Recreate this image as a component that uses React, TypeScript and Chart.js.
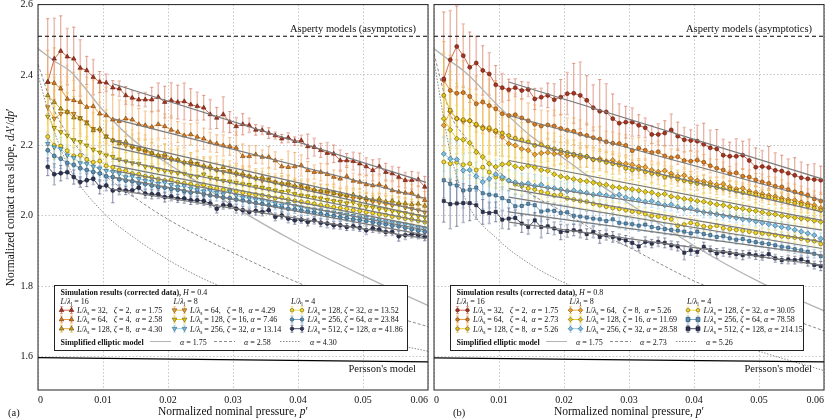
import React, { useRef, useEffect } from "react";
import { Chart, registerables } from "chart.js";

Chart.register(...registerables);

const FONT = '"Liberation Serif", "DejaVu Serif", serif';

// nominal pressure at which the simulations were sampled (0.0015, 0.0025, ... 0.0595)
const pressure: number[] = Array.from({ length: 59 }, (_, i) => +(0.0015 + i * 0.001).toFixed(4));

const xTicks = [0, 0.01, 0.02, 0.03, 0.04, 0.05, 0.06];
const yTicks = [1.6, 1.8, 2.0, 2.2, 2.4, 2.6];

// ---------- H = 0.4 ----------
const h04L16s32 = [2.380, 2.446, 2.468, 2.452, 2.446, 2.420, 2.413, 2.394, 2.380, 2.378, 2.364, 2.361, 2.342, 2.335, 2.330, 2.330, 2.330, 2.337, 2.323, 2.328, 2.323, 2.325, 2.316, 2.311, 2.307, 2.288, 2.278, 2.288, 2.266, 2.254, 2.260, 2.257, 2.244, 2.243, 2.235, 2.228, 2.219, 2.222, 2.212, 2.214, 2.197, 2.195, 2.186, 2.178, 2.176, 2.157, 2.157, 2.155, 2.148, 2.140, 2.129, 2.140, 2.124, 2.120, 2.110, 2.101, 2.101, 2.103, 2.082];
const h04L16s64 = [2.380, 2.377, 2.361, 2.332, 2.328, 2.323, 2.309, 2.311, 2.290, 2.285, 2.273, 2.269, 2.276, 2.273, 2.260, 2.257, 2.252, 2.260, 2.254, 2.244, 2.238, 2.228, 2.231, 2.224, 2.219, 2.209, 2.205, 2.200, 2.197, 2.193, 2.169, 2.169, 2.174, 2.167, 2.167, 2.157, 2.140, 2.138, 2.140, 2.143, 2.129, 2.124, 2.124, 2.118, 2.110, 2.105, 2.112, 2.099, 2.096, 2.089, 2.086, 2.089, 2.082, 2.072, 2.068, 2.065, 2.065, 2.055, 2.044];
const h04L16s128 = [2.342, 2.323, 2.304, 2.295, 2.279, 2.276, 2.262, 2.243, 2.247, 2.224, 2.214, 2.205, 2.21, 2.196, 2.19, 2.188, 2.178, 2.172, 2.175, 2.163, 2.16, 2.152, 2.155, 2.146, 2.142, 2.14, 2.131, 2.138, 2.126, 2.122, 2.12, 2.112, 2.108, 2.11, 2.1, 2.095, 2.092, 2.094, 2.085, 2.08, 2.083, 2.074, 2.07, 2.072, 2.064, 2.062, 2.058, 2.06, 2.052, 2.05, 2.046, 2.048, 2.04, 2.042, 2.036, 2.035, 2.032, 2.034, 2.028];
const h04L8s64 = [2.309, 2.276, 2.29, 2.295, 2.29, 2.278, 2.266, 2.247, 2.243, 2.226, 2.214, 2.21, 2.2, 2.195, 2.19, 2.18, 2.178, 2.17, 2.165, 2.16, 2.158, 2.15, 2.146, 2.148, 2.138, 2.134, 2.13, 2.125, 2.128, 2.118, 2.114, 2.112, 2.106, 2.1, 2.104, 2.095, 2.09, 2.088, 2.082, 2.085, 2.076, 2.072, 2.07, 2.064, 2.066, 2.058, 2.055, 2.05, 2.052, 2.044, 2.04, 2.038, 2.034, 2.03, 2.032, 2.024, 2.02, 2.016, 2.01];
const h04L8s128 = [2.282, 2.25, 2.238, 2.228, 2.215, 2.21, 2.2, 2.188, 2.18, 2.172, 2.168, 2.16, 2.155, 2.15, 2.148, 2.14, 2.138, 2.132, 2.128, 2.125, 2.122, 2.12, 2.114, 2.112, 2.118, 2.108, 2.105, 2.1, 2.098, 2.094, 2.09, 2.088, 2.082, 2.08, 2.076, 2.072, 2.068, 2.07, 2.062, 2.058, 2.056, 2.052, 2.05, 2.046, 2.042, 2.04, 2.036, 2.038, 2.03, 2.026, 2.024, 2.02, 2.018, 2.014, 2.01, 2.008, 2.004, 2.0, 1.996];
const h04L8s256 = [2.205, 2.195, 2.19, 2.172, 2.165, 2.15, 2.148, 2.14, 2.135, 2.128, 2.125, 2.12, 2.11, 2.112, 2.105, 2.1, 2.098, 2.092, 2.095, 2.088, 2.082, 2.085, 2.078, 2.074, 2.07, 2.072, 2.066, 2.062, 2.07, 2.058, 2.052, 2.05, 2.046, 2.044, 2.04, 2.036, 2.03, 2.034, 2.028, 2.024, 2.02, 2.018, 2.016, 2.012, 2.01, 2.006, 2.004, 2.0, 1.996, 1.995, 1.99, 1.988, 1.985, 1.982, 1.978, 1.976, 1.972, 1.968, 1.964];
const h04L4s128 = [2.225, 2.2, 2.198, 2.185, 2.17, 2.172, 2.16, 2.152, 2.155, 2.142, 2.138, 2.13, 2.128, 2.12, 2.118, 2.112, 2.11, 2.104, 2.1, 2.102, 2.095, 2.092, 2.09, 2.085, 2.088, 2.08, 2.078, 2.074, 2.072, 2.07, 2.066, 2.062, 2.06, 2.058, 2.055, 2.05, 2.052, 2.046, 2.042, 2.04, 2.038, 2.034, 2.03, 2.028, 2.025, 2.022, 2.02, 2.016, 2.014, 2.01, 2.008, 2.004, 2.002, 1.998, 1.996, 1.992, 1.99, 1.986, 1.982];
const h04L4s256 = [2.186, 2.17, 2.162, 2.15, 2.145, 2.135, 2.13, 2.125, 2.12, 2.112, 2.11, 2.104, 2.1, 2.098, 2.092, 2.09, 2.086, 2.082, 2.08, 2.076, 2.074, 2.07, 2.066, 2.068, 2.062, 2.058, 2.056, 2.052, 2.05, 2.046, 2.044, 2.04, 2.036, 2.034, 2.03, 2.028, 2.024, 2.02, 2.018, 2.015, 2.012, 2.01, 2.006, 2.002, 2.0, 1.996, 1.994, 1.99, 1.988, 1.985, 1.982, 1.978, 1.976, 1.972, 1.97, 1.966, 1.962, 1.958, 1.955];
const h04L4s512 = [2.139, 2.118, 2.121, 2.124, 2.110, 2.096, 2.101, 2.105, 2.082, 2.086, 2.072, 2.074, 2.072, 2.072, 2.080, 2.063, 2.061, 2.061, 2.053, 2.055, 2.049, 2.049, 2.044, 2.044, 2.042, 2.035, 2.020, 2.030, 2.030, 2.020, 2.016, 2.011, 2.014, 2.011, 2.016, 1.997, 2.001, 1.992, 1.987, 1.989, 1.982, 1.987, 1.980, 1.978, 1.973, 1.973, 1.968, 1.970, 1.966, 1.959, 1.964, 1.961, 1.954, 1.954, 1.942, 1.945, 1.948, 1.945, 1.940];

// error bar half-widths, in thousandths
const h04L16s32Err = [180, 115, 100, 80, 90, 80, 40, 50, 30, 25, 20, 22, 25, 20, 18, 20, 35, 40, 45, 50, 48, 52, 45, 40, 35, 42, 30, 50, 30, 25, 30, 20, 15, 12, 15, 10, 12, 14, 12, 15, 35, 25, 20, 30, 25, 30, 20, 25, 30, 25, 30, 22, 25, 20, 28, 22, 25, 20, 30];
const h04L16s64Err = [90, 100, 110, 95, 80, 90, 85, 75, 95, 80, 70, 60, 50, 55, 45, 40, 45, 40, 35, 40, 30, 35, 30, 40, 30, 28, 25, 30, 25, 45, 35, 30, 25, 20, 30, 25, 20, 45, 40, 30, 25, 20, 25, 30, 20, 25, 30, 22, 20, 25, 30, 25, 20, 25, 35, 30, 25, 30, 25];
const h04L16s128Err = [60, 70, 65, 55, 60, 50, 45, 50, 40, 45, 35, 40, 30, 35, 30, 28, 30, 25, 28, 25, 30, 22, 25, 20, 22, 25, 20, 22, 18, 20, 22, 18, 20, 25, 20, 18, 22, 20, 18, 20, 15, 18, 20, 16, 18, 15, 20, 18, 15, 16, 18, 15, 17, 15, 18, 16, 15, 18, 20];
const h04L8s64Err = [70, 80, 90, 100, 95, 90, 100, 85, 80, 75, 60, 55, 65, 50, 45, 50, 40, 45, 40, 35, 40, 35, 30, 35, 30, 35, 40, 30, 28, 30, 25, 30, 28, 25, 30, 25, 22, 28, 25, 20, 25, 22, 20, 25, 22, 20, 18, 22, 25, 20, 18, 20, 22, 18, 20, 25, 20, 22, 25];
const h04L8s128Err = [55, 60, 70, 65, 60, 55, 50, 55, 45, 40, 45, 35, 40, 30, 35, 30, 28, 30, 25, 28, 25, 22, 25, 20, 22, 25, 20, 18, 22, 20, 18, 20, 16, 18, 20, 15, 18, 16, 15, 18, 16, 15, 14, 16, 15, 14, 16, 15, 13, 15, 14, 16, 15, 13, 15, 14, 13, 15, 16];
const h04L8s256Err = [30, 35, 32, 30, 28, 30, 25, 28, 25, 22, 35, 25, 22, 20, 25, 22, 20, 18, 25, 20, 18, 20, 16, 18, 15, 18, 16, 15, 20, 16, 15, 14, 16, 15, 14, 13, 15, 14, 13, 14, 12, 13, 14, 12, 13, 12, 14, 12, 13, 12, 11, 13, 12, 11, 12, 13, 12, 11, 14];
const h04L4s128Err = [35, 40, 38, 35, 30, 32, 28, 30, 25, 28, 25, 22, 25, 20, 22, 20, 18, 20, 18, 16, 18, 15, 16, 18, 15, 14, 16, 15, 14, 15, 13, 14, 15, 13, 12, 14, 13, 12, 14, 13, 12, 13, 12, 14, 12, 11, 13, 12, 11, 12, 13, 11, 12, 11, 12, 13, 11, 12, 13];
const h04L4s256Err = [30, 32, 28, 30, 25, 28, 24, 25, 22, 20, 22, 20, 18, 20, 18, 16, 18, 15, 16, 15, 14, 16, 15, 14, 13, 15, 14, 13, 14, 12, 13, 14, 12, 13, 12, 11, 13, 12, 11, 12, 11, 12, 13, 11, 12, 11, 10, 12, 11, 10, 12, 11, 10, 11, 12, 10, 11, 12, 13];
const h04L4s512Err = [25, 30, 22, 18, 20, 15, 18, 16, 20, 15, 35, 14, 12, 15, 14, 12, 13, 12, 14, 12, 11, 13, 12, 11, 12, 10, 12, 11, 10, 12, 11, 10, 12, 11, 10, 11, 10, 12, 11, 10, 11, 10, 11, 12, 10, 11, 10, 11, 10, 12, 11, 10, 11, 10, 14, 12, 11, 10, 11];

const h04LamL = [16, 16, 16, 8, 8, 8, 4, 4, 4];
const h04LamS = [32, 64, 128, 64, 128, 256, 128, 256, 512];
const h04Zeta = [2, 4, 8, 8, 16, 32, 32, 64, 128];
const h04Alpha = ["1.75", "2.58", "4.30", "4.29", "7.46", "13.14", "13.52", "23.84", "41.86"];
// straight model lines drawn over each series, from p' = 0.0115 to 0.0597
const h04FitFrom = [2.375, 2.276, 2.214, 2.195, 2.162, 2.129, 2.143, 2.11, 2.075];
const h04FitTo = [2.095, 2.049, 2.011, 1.997, 1.982, 1.959, 1.968, 1.945, 1.935];

// ---------- H = 0.8 ----------
const h08L16s32 = [2.389, 2.443, 2.481, 2.455, 2.422, 2.434, 2.413, 2.403, 2.372, 2.364, 2.358, 2.364, 2.356, 2.359, 2.332, 2.337, 2.342, 2.330, 2.337, 2.347, 2.348, 2.342, 2.328, 2.307, 2.297, 2.295, 2.276, 2.263, 2.266, 2.266, 2.257, 2.250, 2.231, 2.231, 2.235, 2.244, 2.226, 2.216, 2.214, 2.212, 2.203, 2.193, 2.190, 2.172, 2.169, 2.169, 2.172, 2.157, 2.138, 2.140, 2.137, 2.129, 2.127, 2.121, 2.115, 2.108, 2.105, 2.103, 2.101];
const h08L16s64 = [2.385, 2.356, 2.348, 2.35, 2.339, 2.318, 2.323, 2.313, 2.304, 2.29, 2.285, 2.287, 2.278, 2.27, 2.26, 2.255, 2.258, 2.255, 2.248, 2.243, 2.24, 2.232, 2.228, 2.222, 2.218, 2.21, 2.206, 2.205, 2.2, 2.185, 2.192, 2.186, 2.18, 2.182, 2.17, 2.165, 2.168, 2.157, 2.155, 2.158, 2.152, 2.142, 2.135, 2.13, 2.12, 2.122, 2.112, 2.11, 2.102, 2.096, 2.092, 2.084, 2.082, 2.074, 2.068, 2.064, 2.058, 2.048, 2.042];
const h08L16s128 = [2.342, 2.30, 2.276, 2.273, 2.27, 2.26, 2.248, 2.25, 2.242, 2.235, 2.228, 2.22, 2.215, 2.21, 2.2, 2.202, 2.195, 2.19, 2.186, 2.18, 2.175, 2.172, 2.168, 2.16, 2.158, 2.152, 2.148, 2.144, 2.135, 2.13, 2.132, 2.125, 2.12, 2.118, 2.11, 2.112, 2.104, 2.1, 2.096, 2.092, 2.09, 2.086, 2.08, 2.078, 2.075, 2.07, 2.066, 2.064, 2.06, 2.055, 2.052, 2.048, 2.044, 2.04, 2.036, 2.032, 2.028, 2.022, 2.015];
const h08L8s64 = [2.257, 2.296, 2.276, 2.269, 2.27, 2.257, 2.252, 2.245, 2.238, 2.224, 2.205, 2.2, 2.19, 2.186, 2.174, 2.178, 2.18, 2.176, 2.178, 2.17, 2.172, 2.165, 2.168, 2.16, 2.162, 2.155, 2.158, 2.15, 2.148, 2.145, 2.14, 2.138, 2.13, 2.125, 2.128, 2.12, 2.112, 2.115, 2.106, 2.1, 2.098, 2.094, 2.088, 2.09, 2.082, 2.076, 2.078, 2.07, 2.066, 2.062, 2.058, 2.055, 2.05, 2.046, 2.044, 2.038, 2.034, 2.03, 2.022];
const h08L8s128 = [2.276, 2.244, 2.219, 2.216, 2.207, 2.181, 2.167, 2.148, 2.139, 2.146, 2.148, 2.14, 2.135, 2.142, 2.138, 2.13, 2.128, 2.118, 2.112, 2.108, 2.104, 2.1, 2.098, 2.094, 2.09, 2.088, 2.082, 2.08, 2.078, 2.075, 2.072, 2.068, 2.066, 2.06, 2.062, 2.055, 2.052, 2.048, 2.046, 2.042, 2.04, 2.036, 2.032, 2.03, 2.026, 2.022, 2.02, 2.016, 2.014, 2.01, 2.006, 2.004, 2.0, 1.998, 1.995, 1.992, 1.99, 1.986, 1.983];
const h08L8s256 = [2.176, 2.162, 2.16, 2.129, 2.13, 2.112, 2.096, 2.105, 2.118, 2.11, 2.1, 2.095, 2.09, 2.092, 2.085, 2.088, 2.08, 2.078, 2.075, 2.07, 2.072, 2.068, 2.065, 2.06, 2.062, 2.058, 2.055, 2.06, 2.052, 2.048, 2.045, 2.04, 2.042, 2.035, 2.03, 2.032, 2.025, 2.02, 2.022, 2.015, 2.01, 2.008, 2.004, 2.0, 1.998, 1.994, 1.99, 1.988, 1.984, 1.98, 1.976, 1.972, 1.968, 1.965, 1.96, 1.955, 1.95, 1.945, 1.935];
const h08L4s128 = [2.153, 2.148, 2.152, 2.145, 2.148, 2.13, 2.138, 2.124, 2.11, 2.105, 2.1, 2.09, 2.085, 2.078, 2.075, 2.068, 2.065, 2.058, 2.06, 2.05, 2.046, 2.042, 2.04, 2.034, 2.03, 2.026, 2.022, 2.02, 2.016, 2.012, 2.01, 2.005, 2.0, 1.998, 1.994, 1.99, 1.972, 1.975, 1.98, 1.976, 1.97, 1.968, 1.972, 1.965, 1.962, 1.96, 1.958, 1.955, 1.952, 1.95, 1.948, 1.945, 1.942, 1.94, 1.938, 1.935, 1.93, 1.928, 1.92];
const h08L4s256 = [2.101, 2.091, 2.086, 2.072, 2.074, 2.08, 2.064, 2.06, 2.058, 2.05, 2.042, 2.027, 2.028, 2.034, 2.03, 2.012, 2.015, 2.014, 2.008, 2.01, 2.0, 1.998, 1.995, 1.992, 1.99, 1.985, 1.99, 1.98, 1.978, 1.976, 1.972, 1.975, 1.968, 1.965, 1.962, 1.96, 1.958, 1.955, 1.95, 1.955, 1.948, 1.945, 1.94, 1.942, 1.936, 1.932, 1.934, 1.928, 1.925, 1.922, 1.92, 1.916, 1.912, 1.91, 1.905, 1.902, 1.898, 1.892, 1.885];
const h08L4s512 = [2.042, 2.033, 2.035, 2.036, 2.036, 2.03, 2.011, 2.008, 2.011, 1.989, 1.992, 1.994, 1.978, 1.968, 1.987, 1.968, 1.97, 1.964, 1.954, 1.957, 1.959, 1.956, 1.948, 1.954, 1.94, 1.945, 1.94, 1.935, 1.93, 1.923, 1.913, 1.926, 1.921, 1.926, 1.923, 1.916, 1.913, 1.895, 1.902, 1.897, 1.912, 1.902, 1.893, 1.897, 1.894, 1.891, 1.888, 1.891, 1.888, 1.885, 1.891, 1.879, 1.874, 1.876, 1.874, 1.876, 1.869, 1.86, 1.857];

const h08L16s32Err = [190, 140, 115, 90, 100, 75, 70, 60, 55, 40, 30, 25, 25, 20, 30, 25, 35, 45, 50, 60, 85, 95, 70, 65, 90, 80, 70, 55, 45, 40, 30, 28, 25, 30, 35, 45, 40, 35, 30, 45, 60, 50, 55, 45, 40, 50, 40, 60, 55, 45, 60, 50, 45, 40, 50, 45, 40, 45, 40];
const h08L16s64Err = [110, 100, 95, 90, 85, 80, 90, 75, 80, 70, 65, 60, 55, 50, 55, 45, 40, 45, 40, 35, 38, 40, 35, 30, 35, 30, 32, 28, 30, 35, 30, 28, 25, 30, 28, 25, 22, 25, 30, 25, 22, 20, 25, 22, 20, 25, 22, 20, 18, 22, 20, 25, 20, 18, 22, 20, 18, 22, 25];
const h08L16s128Err = [120, 110, 100, 95, 90, 85, 80, 75, 70, 65, 60, 55, 50, 55, 45, 50, 40, 45, 40, 35, 40, 35, 30, 35, 30, 28, 30, 25, 30, 28, 25, 22, 25, 30, 25, 22, 20, 25, 22, 20, 25, 22, 20, 18, 22, 20, 18, 20, 22, 18, 20, 18, 22, 20, 18, 22, 20, 25, 28];
const h08L8s64Err = [80, 90, 85, 80, 75, 70, 80, 65, 60, 55, 50, 45, 50, 40, 45, 35, 40, 35, 30, 35, 30, 28, 30, 25, 28, 30, 25, 22, 25, 28, 22, 25, 20, 22, 25, 20, 18, 22, 20, 25, 20, 18, 20, 22, 18, 20, 16, 18, 20, 18, 16, 20, 18, 16, 18, 20, 18, 22, 25];
const h08L8s128Err = [90, 100, 95, 85, 80, 75, 70, 65, 60, 55, 50, 55, 45, 50, 40, 45, 35, 40, 35, 30, 35, 30, 28, 32, 25, 30, 28, 25, 22, 28, 25, 22, 25, 20, 22, 25, 20, 22, 18, 20, 22, 18, 20, 16, 18, 20, 18, 16, 20, 18, 16, 18, 20, 16, 18, 16, 20, 18, 22];
const h08L8s256Err = [50, 55, 50, 45, 48, 40, 45, 38, 40, 35, 30, 35, 30, 28, 32, 25, 28, 25, 22, 25, 22, 20, 22, 18, 20, 22, 18, 20, 16, 18, 20, 16, 18, 15, 16, 18, 15, 16, 14, 15, 16, 14, 15, 13, 15, 14, 16, 14, 13, 15, 14, 13, 15, 14, 13, 14, 15, 13, 16];
const h08L4s128Err = [45, 50, 45, 40, 42, 38, 40, 35, 32, 30, 28, 30, 25, 28, 25, 22, 25, 22, 20, 22, 20, 18, 20, 18, 16, 18, 20, 16, 18, 15, 16, 18, 15, 14, 16, 15, 20, 18, 16, 15, 14, 15, 16, 14, 13, 15, 14, 13, 15, 14, 13, 14, 13, 12, 14, 13, 12, 14, 15];
const h08L4s256Err = [50, 55, 45, 50, 42, 40, 45, 38, 35, 32, 30, 35, 28, 30, 25, 28, 25, 22, 25, 20, 22, 20, 18, 20, 18, 22, 18, 16, 18, 15, 16, 18, 15, 14, 16, 15, 14, 16, 14, 13, 15, 14, 13, 14, 12, 13, 14, 12, 13, 12, 14, 12, 11, 13, 12, 11, 13, 12, 14];
const h08L4s512Err = [60, 70, 65, 55, 50, 40, 35, 30, 28, 25, 30, 22, 25, 20, 22, 30, 20, 18, 22, 18, 16, 18, 15, 16, 18, 14, 15, 13, 14, 15, 13, 14, 12, 13, 14, 12, 13, 20, 14, 12, 13, 12, 14, 12, 11, 12, 13, 11, 12, 11, 12, 11, 10, 12, 11, 10, 12, 11, 13];

const h08LamL = [16, 16, 16, 8, 8, 8, 4, 4, 4];
const h08LamS = [32, 64, 128, 64, 128, 256, 128, 256, 512];
const h08Zeta = [2, 4, 8, 8, 16, 32, 32, 64, 128];
const h08Alpha = ["1.75", "2.73", "5.26", "5.26", "11.69", "28.58", "30.05", "78.58", "214.15"];
const h08FitFrom = [2.38, 2.285, 2.157, 2.219, 2.096, 2.077, 2.053, 2.011, 1.982];
const h08FitTo = [2.105, 2.044, 1.987, 2.011, 1.959, 1.926, 1.907, 1.888, 1.86];

// simplified elliptic model curves
const modelP = [0, 0.0025, 0.005, 0.01, 0.015, 0.02, 0.025, 0.03, 0.04, 0.05, 0.06];
const h04Model175 = [2.475, 2.44, 2.41, 2.30, 2.21, 2.148, 2.09, 2.028, 1.922, 1.83, 1.745];
const h04Model258 = [2.43, 2.30, 2.22, 2.12, 2.05, 1.99, 1.94, 1.895, 1.81, 1.74, 1.685];
const h04Model430 = [2.40, 2.24, 2.13, 2.01, 1.935, 1.875, 1.825, 1.785, 1.71, 1.655, 1.615];
const h08Model175 = [2.475, 2.44, 2.405, 2.31, 2.225, 2.163, 2.095, 2.035, 1.915, 1.813, 1.73];
const h08Model273 = [2.46, 2.29, 2.22, 2.125, 2.06, 2.01, 1.955, 1.91, 1.815, 1.74, 1.673];
const h08Model526 = [2.44, 2.18, 2.04, 1.93, 1.86, 1.81, 1.77, 1.735, 1.675, 1.615, 1.56];

const fitP = [0.0115, 0.0597];
const perssonP = [0, 0.06];
const h04Persson = [1.597, 1.585];
const h08Persson = [1.596, 1.585];
const asperityLevel = 2.51;

type Marker = "tri" | "triDown" | "circle" | "diamond" | "square";
type Look = { line: string; fill: string; edge: string; bar: string; marker: Marker };

const red: Look = { line: "#cc5a3c", fill: "#a83420", edge: "#5a1a0e", bar: "#d9806a", marker: "tri" };
const orange: Look = { line: "#e98a2e", fill: "#d97c1e", edge: "#6a3a0a", bar: "#f0a860", marker: "tri" };
const gold: Look = { line: "#d9a520", fill: "#c9a020", edge: "#5a4a08", bar: "#e8c050", marker: "tri" };
const orange2: Look = { line: "#f0a832", fill: "#eaa030", edge: "#6a4a10", bar: "#f5c070", marker: "triDown" };
const yellow: Look = { line: "#e6cc1e", fill: "#e0c81c", edge: "#5a5008", bar: "#f0dc5a", marker: "triDown" };
const sky: Look = { line: "#8cc8e6", fill: "#7cbce0", edge: "#2f5a70", bar: "#a8d6ee", marker: "triDown" };
const yellow2: Look = { line: "#f2d82a", fill: "#efd628", edge: "#6a5a10", bar: "#f5e270", marker: "circle" };
const steel: Look = { line: "#6a9ec0", fill: "#5a90b4", edge: "#22405a", bar: "#8ab4d0", marker: "circle" };
const navy: Look = { line: "#353c5c", fill: "#2e3452", edge: "#14182a", bar: "#6a7090", marker: "circle" };

const h04Looks = [red, orange, gold, orange2, yellow, sky, yellow2, steel, navy];
const h08Looks: Look[] = [
  { ...red, marker: "circle" },
  { ...orange, marker: "circle" },
  { ...gold, line: "#e8c41c", fill: "#e6c21a", marker: "circle" },
  { ...orange2, marker: "diamond" },
  { ...yellow, marker: "diamond" },
  { ...sky, marker: "diamond" },
  { ...yellow2, marker: "circle" },
  { ...steel, marker: "square" },
  { ...navy, marker: "square" },
];

const chartStyle: Record<Marker, { pointStyle: string; rotation: number; r: number }> = {
  tri: { pointStyle: "triangle", rotation: 0, r: 2.6 },
  triDown: { pointStyle: "triangle", rotation: 180, r: 2.6 },
  circle: { pointStyle: "circle", rotation: 0, r: 2.0 },
  diamond: { pointStyle: "rectRot", rotation: 0, r: 2.6 },
  square: { pointStyle: "rect", rotation: 0, r: 2.2 },
};

// ---- small rich text helper: *italic*, #bold#, _x subscript ----
type Run = { t: string; it: boolean; b: boolean; sub: boolean };
function parseRich(s: string): Run[] {
  const out: Run[] = [];
  let it = false, b = false;
  for (let i = 0; i < s.length; i++) {
    const c = s[i];
    if (c === "*") { it = !it; continue; }
    if (c === "#") { b = !b; continue; }
    let sub = false, t = c;
    if (c === "_") { sub = true; t = s[++i]; }
    const last = out[out.length - 1];
    if (last && last.it === it && last.b === b && last.sub === sub && !sub) last.t += t;
    else out.push({ t, it, b, sub });
  }
  return out;
}
function drawRich(ctx: CanvasRenderingContext2D, s: string, x: number, y: number, size: number, align = "left") {
  const runs = parseRich(s);
  const font = (r: Run) => `${r.it ? "italic " : ""}${r.b ? "bold " : ""}${r.sub ? size * 0.7 : size}px ${FONT}`;
  let w = 0;
  runs.forEach((r) => { ctx.font = font(r); w += ctx.measureText(r.t).width; });
  let cx = align === "left" ? x : align === "center" ? x - w / 2 : x - w;
  ctx.textAlign = "left";
  ctx.textBaseline = "alphabetic";
  ctx.fillStyle = "#111";
  runs.forEach((r) => {
    ctx.font = font(r);
    ctx.fillText(r.t, cx, r.sub ? y + size * 0.25 : y);
    cx += ctx.measureText(r.t).width;
  });
}

function drawMarker(ctx: CanvasRenderingContext2D, m: Marker, x: number, y: number, r: number, fill: string, edge: string) {
  ctx.beginPath();
  if (m === "circle") ctx.arc(x, y, r, 0, Math.PI * 2);
  else if (m === "tri") { ctx.moveTo(x, y - r * 1.15); ctx.lineTo(x + r, y + r * 0.6); ctx.lineTo(x - r, y + r * 0.6); ctx.closePath(); }
  else if (m === "triDown") { ctx.moveTo(x, y + r * 1.15); ctx.lineTo(x + r, y - r * 0.6); ctx.lineTo(x - r, y - r * 0.6); ctx.closePath(); }
  else if (m === "diamond") { ctx.moveTo(x, y - r); ctx.lineTo(x + r, y); ctx.lineTo(x, y + r); ctx.lineTo(x - r, y); ctx.closePath(); }
  else ctx.rect(x - r, y - r, r * 2, r * 2);
  ctx.fillStyle = fill;
  ctx.fill();
  ctx.strokeStyle = edge;
  ctx.lineWidth = 0.6;
  ctx.stroke();
}

interface PanelProps {
  h: string;
  letter: string;
  left: number;
  width: number;
  plotLeft: number;
  plotRight: number;
  yLabels: boolean;
  series: number[][];
  errors: number[][];
  looks: Look[];
  lamL: number[];
  lamS: number[];
  zeta: number[];
  alpha: string[];
  fitFrom: number[];
  fitTo: number[];
  models: number[][];
  modelAlpha: string[];
  persson: number[];
}

const modelDash = [[], [3, 2], [1.5, 1.5]];
const modelColor = ["#b4b4b4", "#8a8a8a", "#8a8a8a"];

const Panel: React.FC<PanelProps> = (p) => {
  const ref = useRef<HTMLCanvasElement | null>(null);

  useEffect(() => {
    if (!ref.current) return;

    const datasets: any[] = [];
    p.models.forEach((m, k) =>
      datasets.push({
        data: m.map((v, i) => ({ x: modelP[i], y: v })),
        borderColor: modelColor[k], borderWidth: k === 0 ? 1.3 : 1, borderDash: modelDash[k],
        pointRadius: 0, cubicInterpolationMode: "monotone", order: 3,
      })
    );
    p.series.forEach((vals, k) => {
      const look = p.looks[k];
      const st = chartStyle[look.marker];
      datasets.push({
        data: vals.map((v, i) => ({ x: pressure[i], y: v })),
        err: p.errors[k], barColor: look.bar,
        borderColor: look.line, borderWidth: 0.9,
        pointStyle: st.pointStyle, pointRotation: st.rotation, pointRadius: st.r,
        pointBackgroundColor: look.fill, pointBorderColor: look.edge, pointBorderWidth: 0.6,
        order: 2 + k * 0.01,
      });
    });
    p.fitFrom.forEach((v, k) =>
      datasets.push({
        data: [{ x: fitP[0], y: v }, { x: fitP[1], y: p.fitTo[k] }],
        borderColor: "#7a7a7a", borderWidth: 1.2, pointRadius: 0, order: 1,
      })
    );
    datasets.push({
      data: perssonP.map((x, i) => ({ x, y: p.persson[i] })),
      borderColor: "#000", borderWidth: 1.2, pointRadius: 0, order: 0,
    });
    datasets.push({
      data: perssonP.map((x) => ({ x, y: asperityLevel })),
      borderColor: "#000", borderWidth: 1.1, borderDash: [4, 3], pointRadius: 0, order: 0,
    });

    const decor = {
      id: "decor",
      beforeDatasetsDraw(chart: any) {
        const { ctx, chartArea: a } = chart;
        const ys = chart.scales.y;
        ctx.save();
        ctx.beginPath();
        ctx.rect(a.left, a.top, a.right - a.left, a.bottom - a.top);
        ctx.clip();
        chart.data.datasets.forEach((ds: any, i: number) => {
          if (!ds.err) return;
          const meta = chart.getDatasetMeta(i);
          meta.data.forEach((pt: any, j: number) => {
            const v = ds.data[j].y;
            const e = ds.err[j] / 1000;
            const y1 = ys.getPixelForValue(v + e);
            const y2 = ys.getPixelForValue(v - e);
            ctx.strokeStyle = ds.barColor;
            ctx.globalAlpha = j % 2 ? 0.5 : 0.9;
            ctx.lineWidth = j % 2 ? 1.6 : 0.9;
            ctx.beginPath();
            ctx.moveTo(pt.x, y1); ctx.lineTo(pt.x, y2);
            ctx.moveTo(pt.x - 1.6, y1); ctx.lineTo(pt.x + 1.6, y1);
            ctx.moveTo(pt.x - 1.6, y2); ctx.lineTo(pt.x + 1.6, y2);
            ctx.stroke();
          });
        });
        ctx.restore();
      },
      afterDatasetsDraw(chart: any) {
        const { ctx, chartArea: a } = chart;
        const ys = chart.scales.y;
        ctx.save();
        // annotations
        drawRich(ctx, "Asperty models (asymptotics)", a.right - 12, ys.getPixelForValue(asperityLevel) - 4, 10.5, "right");
        drawRich(ctx, "Persson's model", a.right - 12, ys.getPixelForValue(1.6) + 15, 10.5, "right");

        // legend box
        const bx = a.left + 16, by = 285, bw = 353, bh = 65;
        ctx.fillStyle = "#fff";
        ctx.fillRect(bx, by, bw, bh);
        ctx.strokeStyle = "#222";
        ctx.lineWidth = 1;
        ctx.strokeRect(bx + 0.5, by + 0.5, bw, bh);
        const fs = 8;
        drawRich(ctx, `#Simulation results (corrected data),# *H* = ${p.h}`, bx + 6.5, 295, fs);
        const colX = [bx + 6.5, bx + 119.5, bx + 237];
        const rowY = [313, 322.3, 331.5];
        [0, 3, 6].forEach((k, c) => drawRich(ctx, `*L*/*λ*_l = ${p.lamL[k]}`, colX[c], 304, fs));
        p.series.forEach((_, k) => {
          const c = Math.floor(k / 3), r = k % 3;
          const look = p.looks[k];
          const x0 = colX[c], y0 = rowY[r] - 2.8;
          ctx.strokeStyle = look.bar;
          ctx.lineWidth = 0.9;
          ctx.beginPath();
          [x0 + 1, x0 + 11].forEach((mx) => {
            ctx.moveTo(mx, y0 - 3.5); ctx.lineTo(mx, y0 + 3.5);
            ctx.moveTo(mx - 1.4, y0 - 3.5); ctx.lineTo(mx + 1.4, y0 - 3.5);
            ctx.moveTo(mx - 1.4, y0 + 3.5); ctx.lineTo(mx + 1.4, y0 + 3.5);
          });
          ctx.stroke();
          ctx.strokeStyle = look.line;
          ctx.beginPath(); ctx.moveTo(x0 + 1, y0); ctx.lineTo(x0 + 11, y0); ctx.stroke();
          const r0 = chartStyle[look.marker].r * 0.9;
          drawMarker(ctx, look.marker, x0 + 1, y0, r0, look.fill, look.edge);
          drawMarker(ctx, look.marker, x0 + 11, y0, r0, look.fill, look.edge);
          const sep = p.lamS[k] < 100 ? ",   " : ", ";
          const sep2 = p.zeta[k] < 10 ? ",  " : ", ";
          drawRich(ctx, `*L*/*λ*_s = ${p.lamS[k]}${sep}*ζ* = ${p.zeta[k]}${sep2}*α* = ${p.alpha[k]}`, x0 + 16.5, rowY[r], fs);
        });
        drawRich(ctx, "#Simplified elliptic model#", bx + 6.5, 344.5, fs);
        const sx = [bx + 96, bx + 160, bx + 226];
        p.modelAlpha.forEach((al, k) => {
          ctx.strokeStyle = modelColor[k];
          ctx.lineWidth = 1;
          ctx.setLineDash(modelDash[k]);
          ctx.beginPath(); ctx.moveTo(sx[k], 341.5); ctx.lineTo(sx[k] + 21, 341.5); ctx.stroke();
          ctx.setLineDash([]);
          drawRich(ctx, `*α* = ${al}`, sx[k] + 30, 344.5, fs);
        });

        // frame
        ctx.strokeStyle = "#222";
        ctx.lineWidth = 1;
        ctx.strokeRect(a.left, a.top, a.right - a.left, a.bottom - a.top);
        ctx.restore();
      },
      afterDraw(chart: any) {
        const { ctx, chartArea: a } = chart;
        ctx.save();
        drawRich(ctx, "Normalized nominal pressure, *p*′", (a.left + a.right) / 2, 415, 11.5, "center");
        drawRich(ctx, p.letter, p.yLabels ? 8 : 33, 416, 10.5);
        if (p.yLabels) {
          ctx.translate(14, (a.top + a.bottom) / 2);
          ctx.rotate(-Math.PI / 2);
          drawRich(ctx, "Normalized contact area slope, *dA*′/*dp*′", 0, 0, 11.5, "center");
        }
        ctx.restore();
      },
    };

    const chart = new Chart(ref.current, {
      type: "line",
      data: { datasets },
      options: {
        animation: false,
        responsive: false,
        maintainAspectRatio: false,
        layout: { padding: { left: p.yLabels ? 0 : p.plotLeft, right: p.width - p.plotRight, top: 4, bottom: 0 } },
        plugins: { legend: { display: false }, tooltip: { enabled: false } },
        scales: {
          x: {
            type: "linear",
            min: 0,
            max: 0.06,
            afterBuildTicks: (s: any) => { s.ticks = xTicks.map((v) => ({ value: v })); },
            afterFit: (s: any) => { s.height = 30; s.paddingLeft = 0; s.paddingRight = 0; },
            ticks: {
              color: "#111",
              padding: 4,
              maxRotation: 0,
              align: "inner",
              font: { family: FONT, size: 10 },
              callback: (v: any) => (Number(v) === 0 ? "0" : Number(v).toFixed(2)),
            },
            grid: { color: "#b8b8b8", lineWidth: 0.8, drawTicks: false },
            border: { display: false, dash: [1.5, 2] },
          },
          y: {
            min: 1.505,
            max: 2.6,
            afterBuildTicks: (s: any) => { s.ticks = yTicks.map((v) => ({ value: v })); },
            afterFit: (s: any) => { s.width = p.yLabels ? p.plotLeft : 0; s.paddingTop = 0; s.paddingBottom = 0; },
            ticks: {
              display: p.yLabels,
              color: "#111",
              padding: 5,
              font: { family: FONT, size: 10 },
              callback: (v: any) => Number(v).toFixed(1),
            },
            grid: { color: "#b8b8b8", lineWidth: 0.8, drawTicks: false },
            border: { display: false, dash: [1.5, 2] },
          },
        },
      },
      plugins: [decor],
    } as any);

    return () => {
      chart.destroy();
    };
  }, [p]);

  return (
    <canvas
      ref={ref}
      width={p.width}
      height={420}
      style={{ position: "absolute", left: p.left, top: 0, width: p.width, height: 420 }}
    />
  );
};

const leftPanel: PanelProps = {
  h: "0.4", letter: "(a)", left: 0, width: 445, plotLeft: 38, plotRight: 428, yLabels: true,
  series: [h04L16s32, h04L16s64, h04L16s128, h04L8s64, h04L8s128, h04L8s256, h04L4s128, h04L4s256, h04L4s512],
  errors: [h04L16s32Err, h04L16s64Err, h04L16s128Err, h04L8s64Err, h04L8s128Err, h04L8s256Err, h04L4s128Err, h04L4s256Err, h04L4s512Err],
  looks: h04Looks, lamL: h04LamL, lamS: h04LamS, zeta: h04Zeta, alpha: h04Alpha,
  fitFrom: h04FitFrom, fitTo: h04FitTo,
  models: [h04Model175, h04Model258, h04Model430], modelAlpha: ["1.75", "2.58", "4.30"],
  persson: h04Persson,
};

const rightPanel: PanelProps = {
  h: "0.8", letter: "(b)", left: 420, width: 410, plotLeft: 14, plotRight: 404, yLabels: false,
  series: [h08L16s32, h08L16s64, h08L16s128, h08L8s64, h08L8s128, h08L8s256, h08L4s128, h08L4s256, h08L4s512],
  errors: [h08L16s32Err, h08L16s64Err, h08L16s128Err, h08L8s64Err, h08L8s128Err, h08L8s256Err, h08L4s128Err, h08L4s256Err, h08L4s512Err],
  looks: h08Looks, lamL: h08LamL, lamS: h08LamS, zeta: h08Zeta, alpha: h08Alpha,
  fitFrom: h08FitFrom, fitTo: h08FitTo,
  models: [h08Model175, h08Model273, h08Model526], modelAlpha: ["1.75", "2.73", "5.26"],
  persson: h08Persson,
};

export default function App() {
  return (
    <div style={{ position: "absolute", left: 0, top: 0, width: 830, height: 420, background: "#fff" }}>
      <Panel {...leftPanel} />
      <Panel {...rightPanel} />
    </div>
  );
}
